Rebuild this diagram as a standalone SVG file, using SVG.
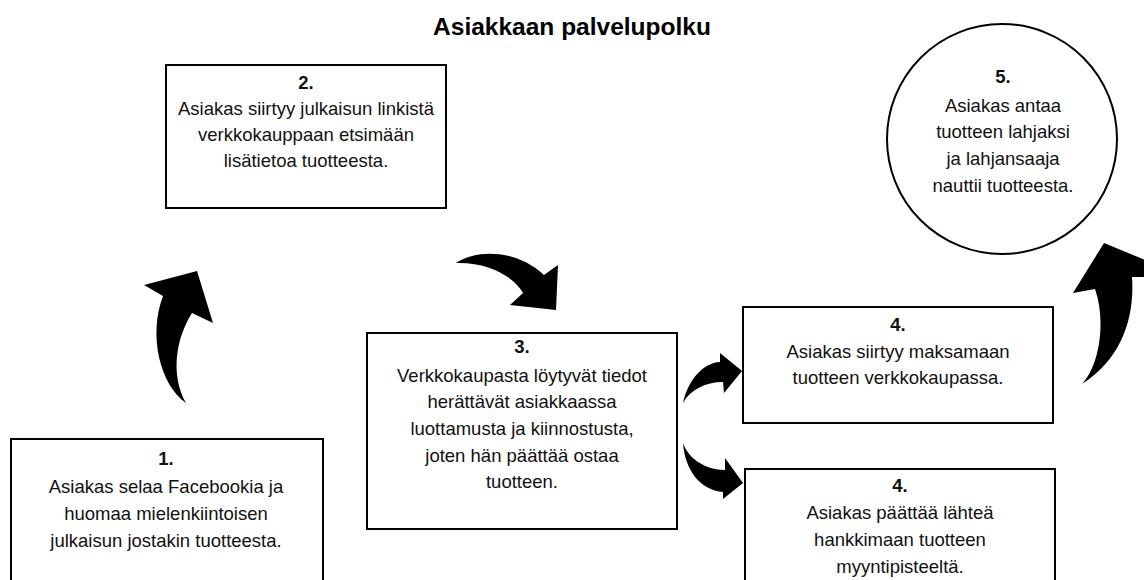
<svg xmlns="http://www.w3.org/2000/svg" width="1144" height="580" viewBox="0 0 1144 580">
<style>
.box{fill:#fff;stroke:#000;stroke-width:2}
.t{font-family:"Liberation Sans",Arial,sans-serif;font-size:18.5px;fill:#111;text-anchor:middle}
.n{font-weight:bold}
.title{font-family:"Liberation Sans",Arial,sans-serif;font-size:24.5px;font-weight:bold;fill:#000;text-anchor:middle}
.arr{fill:#000;stroke:none}
</style>
<rect width="1144" height="580" fill="#fff"/>
<text class="title" x="572" y="35">Asiakkaan palvelupolku</text>
<g id="connectors">
<path class="arr" d="M186,403 C160,385 148,335 163,296 L144,285 L197,271 L213,323 L192,313 C176,338 170,375 186,403 Z"/>
<path class="arr" d="M456,263 C475,250 515,248 544,275 L558,265 L556,310 L510,305 L523,293 C515,278 490,262 456,263 Z"/>
<path class="arr" d="M683,403 C688,380 703,363 720,362 L720,353 L742,371 L724,393 L723,382 C705,382 690,390 683,403 Z"/>
<path class="arr" d="M683,443 C688,458 705,470 725,470 L725,458 L743,483 L723,499 L723,492 C700,490 685,470 683,443 Z"/>
<path class="arr" d="M1082,384 C1100,365 1106,320 1095,289 L1073,293 L1104,243 L1150,262 L1150,277 L1132,277 C1135,320 1120,360 1082,384 Z"/>
</g>
<g id="node1">
<rect class="box" x="11" y="439" width="312" height="150"/>
<text class="t n" x="166" y="465">1.</text>
<text class="t" x="166" y="493">Asiakas selaa Facebookia ja</text>
<text class="t" x="166" y="520">huomaa mielenkiintoisen</text>
<text class="t" x="166" y="547">julkaisun jostakin tuotteesta.</text>
</g>
<g id="node2">
<rect class="box" x="166" y="65" width="280" height="143"/>
<text class="t n" x="306" y="89">2.</text>
<text class="t" x="306" y="115">Asiakas siirtyy julkaisun linkistä</text>
<text class="t" x="306" y="141">verkkokauppaan etsimään</text>
<text class="t" x="306" y="167">lisätietoa tuotteesta.</text>
</g>
<g id="node3">
<rect class="box" x="367" y="333" width="310" height="196"/>
<text class="t n" x="522" y="353">3.</text>
<text class="t" x="522" y="382">Verkkokaupasta löytyvät tiedot</text>
<text class="t" x="522" y="408">herättävät asiakkaassa</text>
<text class="t" x="522" y="435">luottamusta ja kiinnostusta,</text>
<text class="t" x="522" y="462">joten hän päättää ostaa</text>
<text class="t" x="522" y="488">tuotteen.</text>
</g>
<g id="node4a">
<rect class="box" x="743" y="307" width="310" height="116"/>
<text class="t n" x="898" y="331">4.</text>
<text class="t" x="898" y="358">Asiakas siirtyy maksamaan</text>
<text class="t" x="898" y="384">tuotteen verkkokaupassa.</text>
</g>
<g id="node4b">
<rect class="box" x="745" y="469" width="310" height="120"/>
<text class="t n" x="900" y="492">4.</text>
<text class="t" x="900" y="519">Asiakas päättää lähteä</text>
<text class="t" x="900" y="546">hankkimaan tuotteen</text>
<text class="t" x="900" y="573">myyntipisteeltä.</text>
</g>
<g id="node5">
<circle class="box" cx="1002" cy="139" r="115"/>
<text class="t n" x="1003" y="83">5.</text>
<text class="t" x="1003" y="112">Asiakas antaa</text>
<text class="t" x="1003" y="138">tuotteen lahjaksi</text>
<text class="t" x="1003" y="165">ja lahjansaaja</text>
<text class="t" x="1003" y="192">nauttii tuotteesta.</text>
</g>
</svg>
